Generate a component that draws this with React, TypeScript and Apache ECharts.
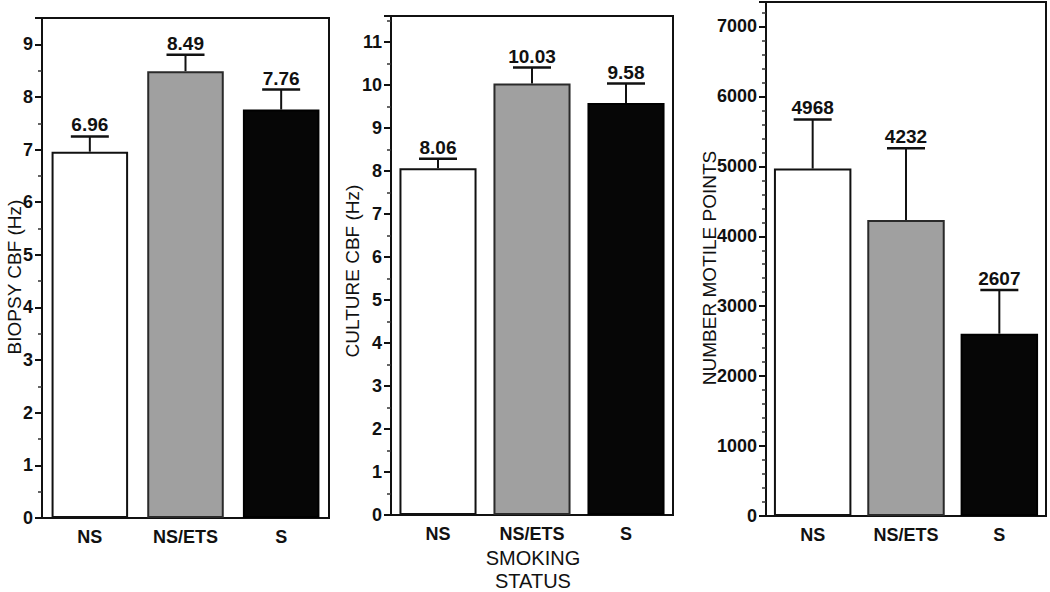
import React, { useEffect, useRef } from "react";
import * as echarts from "echarts";

const categories = ["NS", "NS/ETS", "S"];
const biopsyMeans = [6.96, 8.49, 7.76];
const biopsyErrTop = [7.25, 8.8, 8.14];
const cultureMeans = [8.06, 10.03, 9.58];
const cultureErrTop = [8.28, 10.4, 10.03];
const motileMeans = [4968, 4232, 2607];
const motileErrTop = [5670, 5260, 3230];

const yNames = ["BIOPSY CBF (Hz)", "CULTURE CBF (Hz)", "NUMBER MOTILE POINTS"];
const xName = "SMOKING\nSTATUS";

const FONT = "'Liberation Sans', Arial, Helvetica, sans-serif";
const barColors = ["#ffffff", "#a0a0a0", "#060606"];
const barBorders = ["#111111", "#2a2a2a", "#000000"];

const grids = [
  { left: 42, top: 18, width: 287, height: 500 },
  { left: 391, top: 16, width: 282, height: 499 },
  { left: 766, top: 2, width: 280, height: 514 },
];
const yMax = [9.5, 11.6, 7350];
const yInterval = [1, 1, 1000];
const minorSplits = [2, 2, 5];
const barWidths = ["80%", "82%", "83%"];
const namePos = [
  [14, 277],
  [352, 271],
  [709, 268],
];

export default function App() {
  const ref = useRef<HTMLDivElement>(null);
  useEffect(() => {
    if (!ref.current) return;
    const chart = echarts.init(ref.current, undefined, { renderer: "svg" });
    const means = [biopsyMeans, cultureMeans, motileMeans];
    const errs = [biopsyErrTop, cultureErrTop, motileErrTop];

    const series: any[] = [];
    means.forEach((m, gi) => {
      series.push({
        type: "bar",
        xAxisIndex: gi,
        yAxisIndex: gi,
        barWidth: barWidths[gi],
        data: m.map((v, i) => ({
          value: v,
          itemStyle: {
            color: barColors[i],
            borderColor: barBorders[i],
            borderWidth: 2,
          },
        })),
        silent: true,
      });
      series.push({
        type: "custom",
        xAxisIndex: gi,
        yAxisIndex: gi,
        data: m.map((v, i) => [i, v, errs[gi][i]]),
        encode: { x: 0, y: [1, 2] },
        renderItem: (params: any, api: any) => {
          const idx = params.dataIndex;
          const base = api.coord([api.value(0), api.value(1)]);
          const top = api.coord([api.value(0), api.value(2)]);
          const x = base[0];
          return {
            type: "group",
            children: [
              {
                type: "line",
                shape: { x1: x, y1: base[1], x2: x, y2: top[1] },
                style: { stroke: "#111", lineWidth: 2 },
              },
              {
                type: "line",
                shape: { x1: x - 19, y1: top[1], x2: x + 19, y2: top[1] },
                style: { stroke: "#111", lineWidth: 2.5 },
              },
              {
                type: "text",
                x: x,
                y: top[1] - 2,
                style: {
                  text: String(m[idx]),
                  fill: "#111",
                  fontSize: 19,
                  fontWeight: "bold",
                  fontFamily: FONT,
                  align: "center",
                  verticalAlign: "bottom",
                },
              },
            ],
          };
        },
        silent: true,
        z: 5,
      });
    });

    const nameGraphics = yNames.map((t, i) => ({
      type: "text",
      x: namePos[i][0],
      y: namePos[i][1],
      rotation: Math.PI / 2,
      style: {
        text: t,
        fill: "#111",
        fontSize: 19,
        fontFamily: FONT,
        align: "center",
        verticalAlign: "middle",
      },
    }));

    const option: any = {
      animation: false,
      backgroundColor: "#ffffff",
      grid: grids.map((g) => ({
        ...g,
        show: true,
        borderColor: "#111",
        borderWidth: 2,
        backgroundColor: "transparent",
        containLabel: false,
      })),
      xAxis: grids.map((_, gi) => ({
        type: "category",
        gridIndex: gi,
        data: categories,
        axisTick: { show: false },
        axisLine: { show: true, lineStyle: { color: "#111", width: 2 } },
        axisLabel: {
          color: "#111",
          fontSize: 18,
          fontWeight: "bold",
          fontFamily: FONT,
          margin: 10,
        },
      })),
      yAxis: grids.map((_, gi) => ({
        type: "value",
        gridIndex: gi,
        min: 0,
        max: yMax[gi],
        interval: yInterval[gi],
        splitLine: { show: false },
        axisLine: { show: true, lineStyle: { color: "#111", width: 2 } },
        axisTick: {
          show: true,
          inside: false,
          length: 7,
          lineStyle: { color: "#111", width: 2 },
        },
        minorTick: {
          show: true,
          splitNumber: minorSplits[gi],
          length: 4,
          lineStyle: { color: "#333", width: 1.5 },
        },
        minorSplitLine: { show: false },
        axisLabel: {
          color: "#111",
          fontSize: 18,
          fontWeight: "bold",
          fontFamily: FONT,
          margin: 9,
          formatter: (v: number) => (v % yInterval[gi] !== 0 ? "" : String(v)),
        },
      })),
      series,
      graphic: [
        ...nameGraphics,
        {
          type: "text",
          x: 533,
          y: 569,
          style: {
            text: xName,
            fill: "#111",
            fontSize: 20,
            fontFamily: FONT,
            align: "center",
            verticalAlign: "middle",
            lineHeight: 23,
          },
        },
      ],
    };
    chart.setOption(option);
    return () => chart.dispose();
  }, []);
  return (
    <div
      ref={ref}
      style={{ position: "fixed", left: 0, top: 0, width: 1050, height: 592, background: "#fff" }}
    />
  );
}
